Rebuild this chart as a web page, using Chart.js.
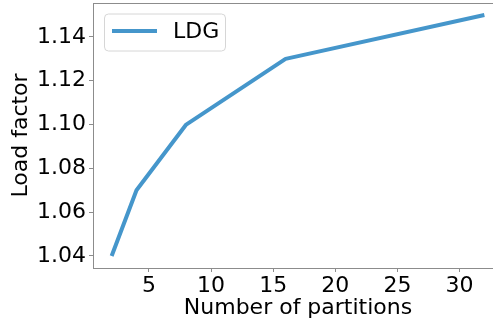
<!DOCTYPE html>
<html>
<head>
<meta charset="utf-8">
<script src="https://cdn.jsdelivr.net/npm/chart.js@4"></script>
<style>
  html, body { margin: 0; padding: 0; overflow: hidden; background: #fff; }
  #wrap { position: absolute; left: 0; top: 0; width: 503px; height: 324px; }
</style>
</head>
<body>
<div id="wrap"><canvas id="c"></canvas></div>
<script>
const partitions = [2, 4, 8, 16, 32];
const loadFactor = [1.04, 1.07, 1.10, 1.13, 1.15];
const seriesName = 'LDG';
const xTicks = [5, 10, 15, 20, 25, 30];
const yTicks = [1.04, 1.06, 1.08, 1.10, 1.12, 1.14];
const xTitle = 'Number of partitions';
const yTitle = 'Load factor';

const FONT = 'DejaVu Sans';
const LINE = '#4596cb';
const SPINE = '#8c8c8c';

const framePlugin = {
  id: 'frame',
  afterDraw(chart) {
    const {ctx, chartArea: a} = chart;
    ctx.save();
    ctx.strokeStyle = SPINE;
    ctx.lineWidth = 1;
    ctx.beginPath();
    ctx.moveTo(a.left, a.top + 0.5);
    ctx.lineTo(a.right, a.top + 0.5);
    ctx.lineTo(a.right - 0.5, a.bottom);
    ctx.stroke();
    ctx.restore();
  }
};

const legendPlugin = {
  id: 'boxLegend',
  afterDraw(chart) {
    const {ctx, chartArea: a} = chart;
    const ds = chart.data.datasets[0];
    const x = a.left + 11, y = a.top + 10.5, w = 121, h = 37, r = 4;
    ctx.save();
    ctx.fillStyle = 'rgba(255,255,255,0.8)';
    ctx.strokeStyle = '#d6d6d6';
    ctx.lineWidth = 1;
    ctx.beginPath();
    ctx.roundRect(x + 0.5, y + 0.5, w, h, r);
    ctx.fill();
    ctx.stroke();
    ctx.strokeStyle = ds.borderColor;
    ctx.lineWidth = ds.borderWidth;
    ctx.beginPath();
    ctx.moveTo(x + 8, y + 17.5);
    ctx.lineTo(x + 53, y + 17.5);
    ctx.stroke();
    ctx.fillStyle = '#000';
    ctx.font = '22px "' + FONT + '"';
    ctx.textBaseline = 'middle';
    ctx.textAlign = 'left';
    ctx.fillText(ds.label, x + 69, y + 18.5);
    ctx.restore();
  }
};

new Chart(document.getElementById('c'), {
  type: 'line',
  data: {
    datasets: [{
      label: seriesName,
      data: partitions.map((p, i) => ({x: p, y: loadFactor[i]})),
      borderColor: LINE,
      backgroundColor: LINE,
      borderWidth: 4,
      pointRadius: 0,
      borderJoinStyle: 'round',
      tension: 0
    }]
  },
  options: {
    responsive: true,
    maintainAspectRatio: false,
    animation: false,
    layout: { padding: { top: 3, right: 0, left: 0, bottom: 0 } },
    plugins: { legend: { display: false }, tooltip: { enabled: false } },
    scales: {
      x: {
        type: 'linear',
        min: 0.5,
        max: 33.5,
        afterBuildTicks: s => { s.ticks = xTicks.map(v => ({value: v})); },
        afterFit: s => { s.height = 56; s.paddingLeft = 0; s.paddingRight = 0; },
        ticks: { color: '#000', font: { family: FONT, size: 22 }, padding: 1, maxRotation: 0, autoSkip: false },
        grid: { drawOnChartArea: false, drawTicks: true, tickLength: 4, color: SPINE },
        border: { display: true, color: SPINE, width: 1 },
        title: { display: true, text: xTitle, color: '#000', font: { family: FONT, size: 22 }, padding: { top: 0, bottom: 3 } }
      },
      y: {
        type: 'linear',
        min: 1.0345,
        max: 1.1555,
        afterBuildTicks: s => { s.ticks = yTicks.map(v => ({value: v})); },
        afterFit: s => { s.width = 93; s.paddingTop = 0; s.paddingBottom = 0; },
        ticks: { color: '#000', font: { family: FONT, size: 22 }, padding: 3, autoSkip: false,
                 callback: v => v.toFixed(2) },
        grid: { drawOnChartArea: false, drawTicks: true, tickLength: 4, color: SPINE },
        border: { display: true, color: SPINE, width: 1 },
        title: { display: true, text: yTitle, color: '#000', font: { family: FONT, size: 22 }, padding: { top: 8, bottom: 0 } }
      }
    }
  },
  plugins: [framePlugin, legendPlugin]
});
</script>
</body>
</html>
